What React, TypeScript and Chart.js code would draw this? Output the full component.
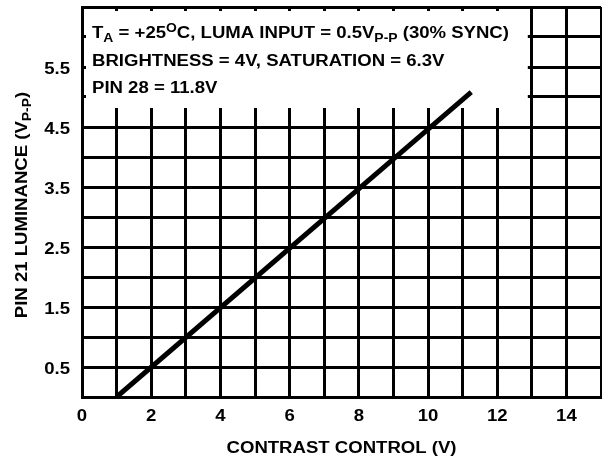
import React, { useEffect, useRef } from "react";
import { Chart, registerables } from "chart.js";

Chart.register(...registerables);

// Data
const contrastV = [1, 11.25];
const luminanceV = [0, 5.08];

const xTickValues = [0, 2, 4, 6, 8, 10, 12, 14];
const yTickValues = [0.5, 1.5, 2.5, 3.5, 4.5, 5.5];

const xTitle = "CONTRAST CONTROL (V)";
const yTitleParts = [
  { t: "PIN 21 LUMINANCE (V", s: 0 },
  { t: "P-P", s: 1 },
  { t: ")", s: 0 },
];
const noteLines = [
  [
    { t: "T", s: 0 },
    { t: "A", s: 1 },
    { t: " = +25", s: 0 },
    { t: "O", s: -1 },
    { t: "C, LUMA INPUT = 0.5V", s: 0 },
    { t: "P-P", s: 1 },
    { t: " (30% SYNC)", s: 0 },
  ],
  [{ t: "BRIGHTNESS = 4V, SATURATION = 6.3V", s: 0 }],
  [{ t: "PIN 28 = 11.8V", s: 0 }],
];

const FONT = "'Liberation Sans', Arial, sans-serif";
const SIZE = 16;
const STRETCH = 1.16;

type Part = { t: string; s: number };

function partSize(p: Part) {
  return p.s === 0 ? SIZE : Math.round(SIZE * 0.72);
}

function measureRich(ctx: CanvasRenderingContext2D, parts: Part[]) {
  let w = 0;
  for (const p of parts) {
    ctx.font = `bold ${partSize(p)}px ${FONT}`;
    w += ctx.measureText(p.t).width;
  }
  return w;
}

// draws in current transform, x,y in unstretched units (caller handles stretch)
function drawRich(ctx: CanvasRenderingContext2D, parts: Part[], x: number, y: number) {
  let cx = x;
  for (const p of parts) {
    ctx.font = `bold ${partSize(p)}px ${FONT}`;
    const dy = p.s === 1 ? SIZE * 0.28 : p.s === -1 ? -SIZE * 0.38 : 0;
    ctx.fillText(p.t, cx, y + dy);
    cx += ctx.measureText(p.t).width;
  }
}

function stretchedText(ctx: CanvasRenderingContext2D, parts: Part[], x: number, y: number, align: "left" | "center" | "right") {
  const w = measureRich(ctx, parts) * STRETCH;
  let x0 = x;
  if (align === "center") x0 = x - w / 2;
  if (align === "right") x0 = x - w;
  ctx.save();
  ctx.translate(x0, y);
  ctx.scale(STRETCH, 1);
  drawRich(ctx, parts, 0, 0);
  ctx.restore();
}

const textPlugin = {
  id: "textPlugin",
  beforeDatasetsDraw(chart: any) {
    const { ctx, chartArea, scales } = chart;
    const xs = scales.x;
    ctx.save();
    const left = chartArea.left + 4;
    const top = chartArea.top + 4;
    const right = xs.getPixelForValue(13) - 4;
    const bottom = chartArea.top + 101;
    ctx.fillStyle = "#ffffff";
    ctx.fillRect(left, top, right - left, bottom - top);
    ctx.fillStyle = "#000000";
    ctx.textBaseline = "alphabetic";
    ctx.textAlign = "left";
    const baseYs = [chartArea.top + 31, chartArea.top + 59, chartArea.top + 86];
    noteLines.forEach((line, i) => {
      stretchedText(ctx, line, chartArea.left + 10, baseYs[i], "left");
    });
    ctx.restore();
  },
  afterDraw(chart: any) {
    const { ctx, chartArea, scales } = chart;
    ctx.save();
    ctx.fillStyle = "#000000";
    ctx.textBaseline = "alphabetic";
    ctx.textAlign = "left";
    // x tick labels
    for (const v of xTickValues) {
      const px = scales.x.getPixelForValue(v);
      stretchedText(ctx, [{ t: String(v), s: 0 }], px, chartArea.bottom + 24, "center");
    }
    // y tick labels
    for (const v of yTickValues) {
      const py = scales.y.getPixelForValue(v);
      stretchedText(ctx, [{ t: v.toFixed(1), s: 0 }], chartArea.left - 12, py + 7, "right");
    }
    // x title
    const cxm = (chartArea.left + chartArea.right) / 2;
    stretchedText(ctx, [{ t: xTitle, s: 0 }], cxm - 0, chart.height - 6, "center");
    // y title rotated
    ctx.save();
    ctx.translate(27, 205);
    ctx.rotate(-Math.PI / 2);
    stretchedText(ctx, yTitleParts, 0, 0, "center");
    ctx.restore();
    ctx.restore();
  },
};

export default function App() {
  const ref = useRef<HTMLCanvasElement>(null);
  useEffect(() => {
    document.body.style.margin = "0";
    const canvas = ref.current!;
    const chart = new Chart(canvas, {
      type: "line",
      data: {
        datasets: [
          {
            data: contrastV.map((x, i) => ({ x, y: luminanceV[i] })),
            borderColor: "#000000",
            borderWidth: 5,
            pointRadius: 0,
            fill: false,
            tension: 0,
          },
        ],
      },
      options: {
        animation: false,
        responsive: false,
        maintainAspectRatio: false,
        layout: { padding: { top: 7, right: 1, left: 0, bottom: 0 } },
        plugins: { legend: { display: false }, tooltip: { enabled: false }, title: { display: false } },
        scales: {
          x: {
            type: "linear",
            min: 0,
            max: 15,
            ticks: { stepSize: 1, autoSkip: false, display: false },
            grid: { color: "#000000", lineWidth: 3, drawTicks: false },
            border: { color: "#000000", width: 3 },
            afterFit: (s: any) => {
              s.height = 62;
            },
          },
          y: {
            type: "linear",
            min: 0,
            max: 6.5,
            ticks: { stepSize: 0.5, autoSkip: false, display: false },
            grid: { color: "#000000", lineWidth: 3, drawTicks: false },
            border: { color: "#000000", width: 3 },
            afterFit: (s: any) => {
              s.width = 82;
            },
          },
        },
      },
      plugins: [textPlugin],
    } as any);
    return () => chart.destroy();
  }, []);
  return (
    <div style={{ width: 602, height: 459, background: "#fff" }}>
      <canvas ref={ref} width={602} height={459} style={{ display: "block" }} />
    </div>
  );
}
